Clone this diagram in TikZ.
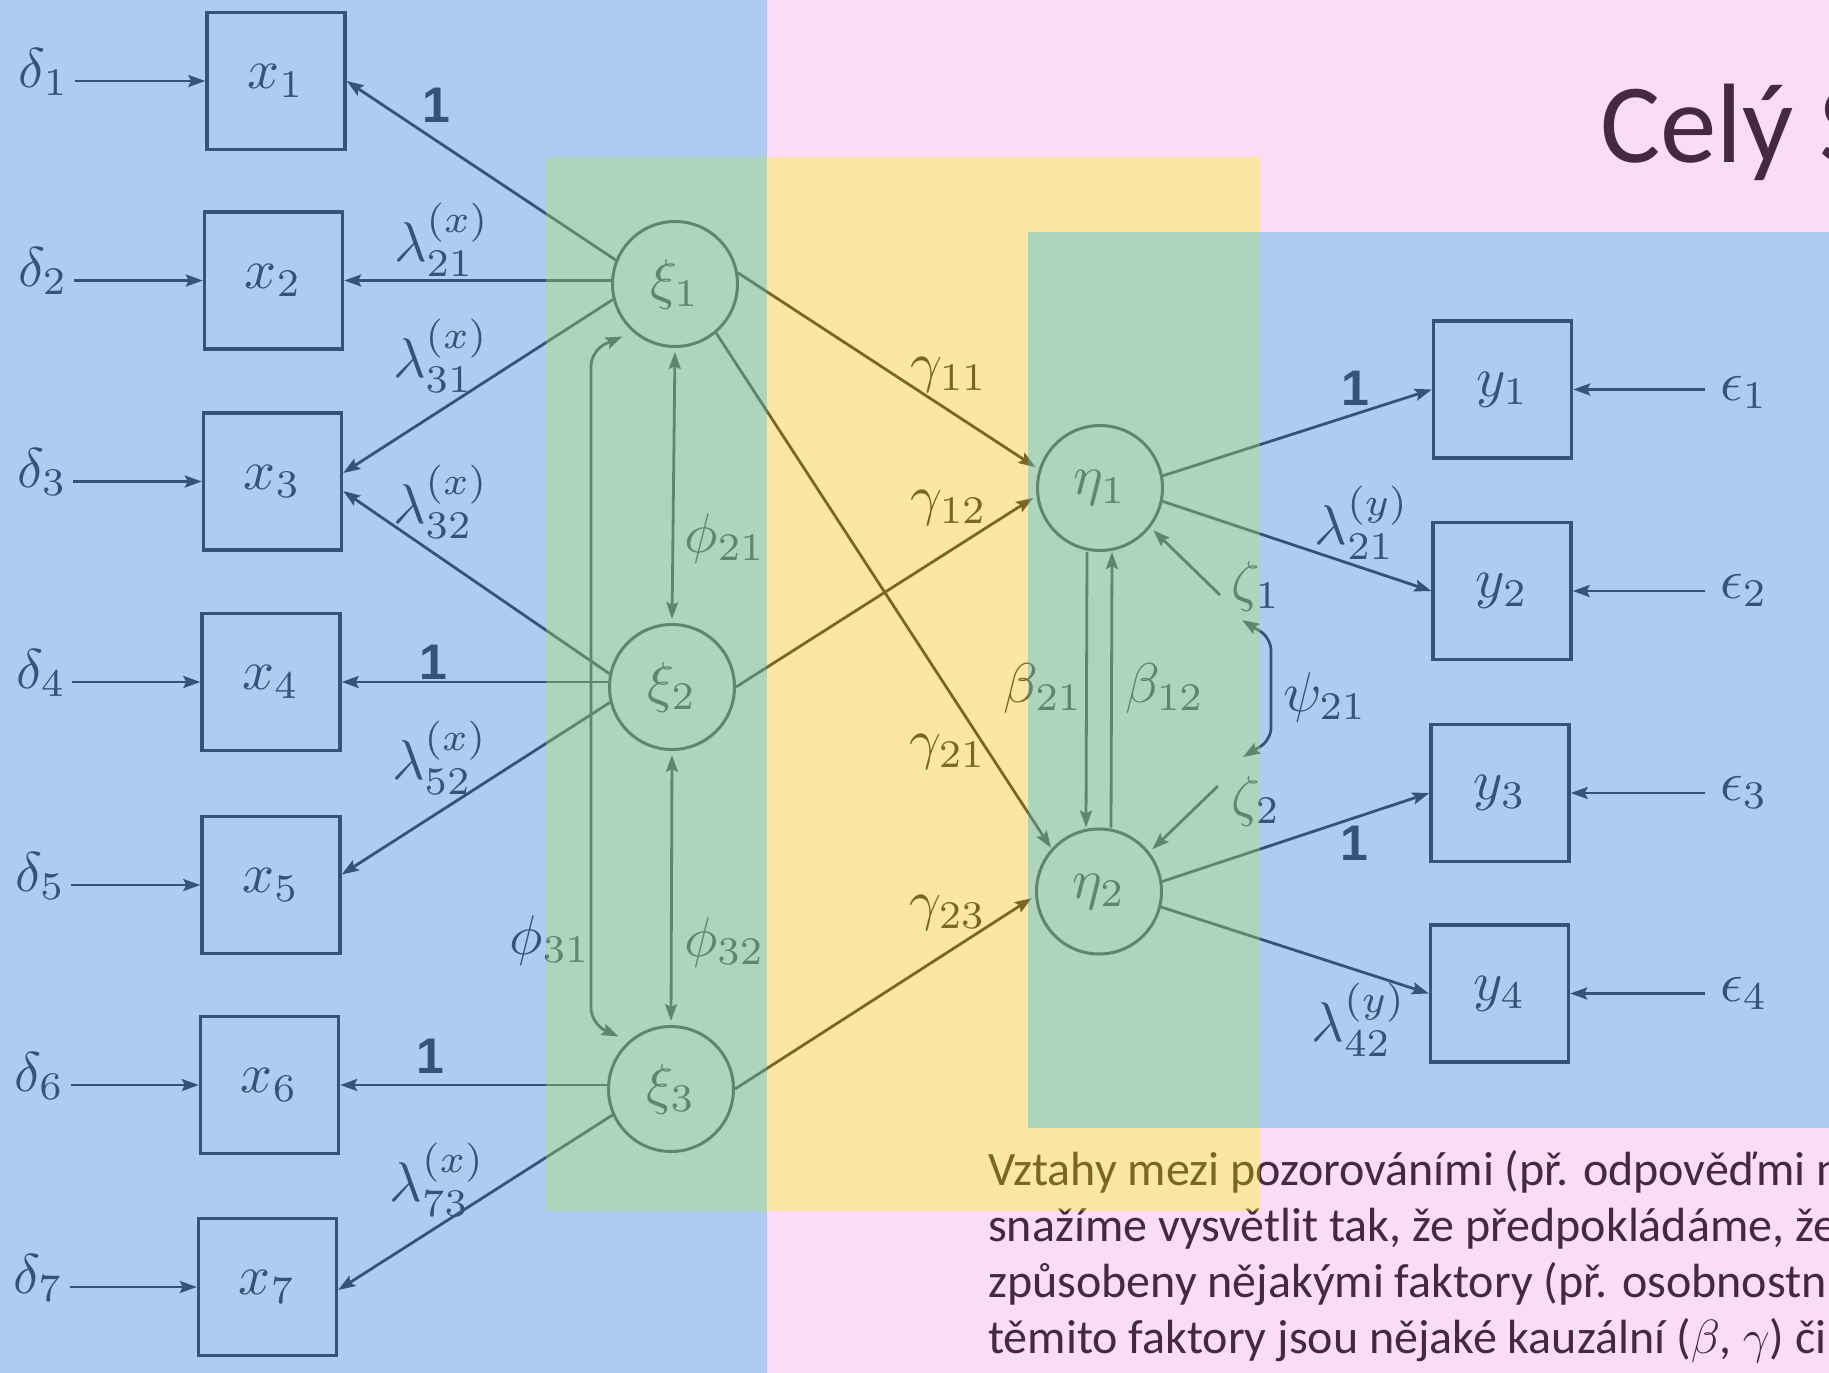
\RequirePackage{fix-cm}
\documentclass[tikz,border=0pt]{standalone}
\usepackage{graphicx}
\usepackage{fontspec}
\newfontfamily\slidefont{Carlito}
\newfontfamily\digitfont{Liberation Sans}
\usetikzlibrary{arrows.meta,calc}

\definecolor{diagink}{RGB}{30,30,30}
\definecolor{tintblue}{RGB}{77,146,225}
\definecolor{tintgreen}{RGB}{130,189,155}
\definecolor{tintyellow}{RGB}{250,197,48}
\definecolor{tintpink}{RGB}{240,80,200}

% formulas are set at 10pt and enlarged, as in a scanned figure
\newcommand\mth[1]{\scalebox{5.6}{$#1$}}
\newcommand\one{{\digitfont\bfseries\fontsize{50}{56}\selectfont 1}}

\tikzset{
  obs/.style={draw=diagink, line width=3.4pt, minimum width=138pt,
              minimum height=137pt, inner sep=0pt, text=diagink},
  lat/.style={draw=diagink, circle, line width=3pt, minimum size=125pt,
              inner sep=0pt, text=diagink},
  lbl/.style={inner sep=0pt, text=diagink},
  tip/.tip={Stealth[length=17pt,width=12pt,inset=3pt]},
  conn/.style={draw=diagink, line width=2.8pt, -tip},
  dconn/.style={draw=diagink, line width=2.8pt, tip-tip},
  gap/.style={shorten >=4pt},
  slidetext/.style={inner sep=0pt, text=diagink, anchor=base west,
              font=\slidefont\fontsize{48}{56}\selectfont},
  tintb/.style={fill=tintblue, fill opacity=0.46},
  tintg/.style={fill=tintgreen, fill opacity=0.65},
  tinty/.style={fill=tintyellow, fill opacity=0.43},
  tintp/.style={fill=tintpink, fill opacity=0.2},
}

\begin{document}
\begin{tikzpicture}[x=1pt, y=-1pt, font=\fontsize{10}{12}\selectfont]
\useasboundingbox (0,0) rectangle (1829,1373);
\clip (0,0) rectangle (1829,1373);

% white page
\fill[white] (0,0) rectangle (1829,1373);

% observed x variables
\node[obs] (x1) at (276,81)     {\mth{x_1}};
\node[obs] (x2) at (273.5,280.5) {\mth{x_2}};
\node[obs] (x3) at (272.5,481.5) {\mth{x_3}};
\node[obs] (x4) at (271,682)    {\mth{x_4}};
\node[obs] (x5) at (271,885)    {\mth{x_5}};
\node[obs] (x6) at (269.5,1085) {\mth{x_6}};
\node[obs] (x7) at (267.5,1287) {\mth{x_7}};

% measurement errors delta
\foreach \i/\xx/\yy in {1/75/87, 2/74.1/286.5, 3/73.2/487.5, 4/72.3/688,
                        5/71.4/891, 6/70.5/1091, 7/69.6/1293}{
  \node[lbl, anchor=base east, outer xsep=6pt] (d\i) at (\xx,\yy) {\mth{\delta_{\i}}};
  \draw[conn] (d\i.east |- x\i.west) -- (x\i.west);
}

% exogenous latent variables
\node[lat] (xi1) at (675,284)  {\mth{\xi_1}};
\node[lat] (xi2) at (672,687)  {\mth{\xi_2}};
\node[lat] (xi3) at (671,1089) {\mth{\xi_3}};

% loadings of x
\draw[conn] (xi1.158) -- (x1.east);
\draw[conn] (x2.east -| xi1.west) -- (x2.east);
\draw[conn] (xi1.194) -- ([yshift=8.5pt]x3.east);
\draw[conn] (xi2.168) -- ([yshift=-9.5pt]x3.east);
\draw[conn] (x4.east -| xi2.west) -- (x4.east);
\draw[conn] (xi2.194) -- ([yshift=10.5pt]x5.east);
\draw[conn] (x6.east -| xi3.west) -- (x6.east);
\draw[conn] (xi3.204) -- ([yshift=-3pt]x7.east);

\node[lbl] (o1) at (436,105) {\one};
\node[lbl] (l21) at (442,240)  {\mth{\lambda^{(x)}_{21}}};
\node[lbl] (l31) at (441,356)  {\mth{\lambda^{(x)}_{31}}};
\node[lbl] (l32) at (441,502)  {\mth{\lambda^{(x)}_{32}}};
\node[lbl] (o4) at (433.5,662) {\one};
\node[lbl] (l52) at (440,758)  {\mth{\lambda^{(x)}_{52}}};
\node[lbl] (o6) at (430,1056.5) {\one};
\node[lbl] (l73) at (437.5,1180) {\mth{\lambda^{(x)}_{73}}};

% covariances of xi
\draw[dconn, shorten <=4pt, shorten >=4pt] (xi1.south) -- (xi2.north);
\draw[dconn, shorten <=4pt, shorten >=4pt] (xi2.south) -- (xi3.north);
\draw[dconn, rounded corners=16pt]
  ($(xi1.center)!1.16!(xi1.225)$) -- (591,350) -- (591,1024)
  -- ($(xi3.center)!1.16!(xi3.135)$);
\node[lbl] (p21) at (725,538)   {\mth{\phi_{21}}};
\node[lbl] (p32) at (724.5,942) {\mth{\phi_{32}}};
\node[lbl] (p31) at (550,940)   {\mth{\phi_{31}}};

% endogenous latent variables
\node[lat] (eta1) at (1100,488)   {\mth{\eta_1}};
\node[lat] (eta2) at (1099,891.5) {\mth{\eta_2}};

% structural paths gamma
\draw[conn, gap] (xi1.10) -- (eta1.163);
\draw[conn, gap] (xi2.east) -- (eta1.187);
\draw[conn, shorten >=1pt] (xi1.-50) -- (eta2.138);
\draw[conn, gap] (xi3.east) -- (eta2.184);
\node[lbl] (g11) at (949,375) {\mth{\gamma_{11}}};
\node[lbl] (g12) at (949,508) {\mth{\gamma_{12}}};
\node[lbl] (g21) at (948,752) {\mth{\gamma_{21}}};
\node[lbl] (g23) at (948,913) {\mth{\gamma_{23}}};

% structural paths beta
\draw[conn] ([xshift=-13pt]eta1.south) -- ([xshift=-13pt]eta2.north);
\draw[conn] ([xshift=12pt]eta2.north) -- ([xshift=12pt]eta1.south);
\node[lbl] (b21) at (1043.5,688) {\mth{\beta_{21}}};
\node[lbl] (b12) at (1165,688)   {\mth{\beta_{12}}};

% disturbances zeta and their covariance
\node[lbl] (z1) at (1256,586) {\mth{\zeta_1}};
\node[lbl] (z2) at (1256,801) {\mth{\zeta_2}};
\coordinate (z1s) at (1220,595);
\coordinate (z2s) at (1218,786);
\draw[conn, gap] (z1s) -- (eta1.-38);
\draw[conn, gap] (z2s) -- (eta2.38);
\coordinate (psA) at (1242,620);
\coordinate (psB) at (1243,757);
\draw[dconn, rounded corners=12pt] (psA) -- (1271,638) -- (1271,740) -- (psB);
\node[lbl] (psi) at (1325,697) {\mth{\psi_{21}}};

% observed y variables
\node[obs] (y1) at (1502.5,389.5) {\mth{y_1}};
\node[obs] (y2) at (1502,591)     {\mth{y_2}};
\node[obs] (y3) at (1500,793)     {\mth{y_3}};
\node[obs] (y4) at (1499.5,993.5) {\mth{y_4}};

\draw[conn] (eta1.11)  -- (y1.west);
\draw[conn] (eta1.-12) -- (y2.west);
\draw[conn] (eta2.9)   -- (y3.west);
\draw[conn] (eta2.-14) -- (y4.west);
\node[lbl] (o7) at (1355.6,388.5) {\one};
\node[lbl] (ly21) at (1362,523)  {\mth{\lambda^{(y)}_{21}}};
\node[lbl] (o9) at (1354,843.5) {\one};
\node[lbl] (ly42) at (1359,1020) {\mth{\lambda^{(y)}_{42}}};

% measurement errors epsilon
\foreach \i/\yy in {1/400, 2/598, 3/800, 4/1001}{
  \node[lbl, anchor=base west, outer xsep=15pt] (e\i) at (1705,\yy) {\mth{\epsilon_{\i}}};
  \draw[conn] (e\i.west |- y\i.east) -- (y\i.east);
}

% slide title and body text
\node[slidetext, font=\slidefont\fontsize{113}{120}\selectfont] (title) at (1600,162) {Celý S};
\node[slidetext] (t1) at (988,1185) {Vztahy mezi pozorováními (př. odpověďmi n};
\node[slidetext] (t2) at (988,1241) {snažíme vysvětlit tak, že předpokládáme, že};
\node[slidetext] (t3) at (988,1297) {způsobeny nějakými faktory (př. osobnostní};
\node[slidetext] (t4) at (988,1353) {těmito faktory jsou nějaké kauzální ({\fontsize{48}{56}\selectfont$\beta$, $\gamma$}) či};

% translucent colour panels over everything
\fill[tintb] (0,0) rectangle (546,1373);
\fill[tintb] (546,0) rectangle (767,157);
\fill[tintb] (546,1211) rectangle (767,1373);
\fill[tintb] (1260,232) rectangle (1829,1128);
\fill[tintg] (546,157) rectangle (767,1211);
\fill[tintg] (1028,232) rectangle (1260,1128);
\fill[tinty] (767,157) rectangle (1260,232);
\fill[tinty] (767,232) rectangle (1028,1211);
\fill[tinty] (1028,1128) rectangle (1260,1211);
\fill[tintp] (767,0) rectangle (1829,157);
\fill[tintp] (1260,157) rectangle (1829,232);
\fill[tintp] (1260,1128) rectangle (1829,1211);
\fill[tintp] (767,1211) rectangle (1829,1373);
\end{tikzpicture}
\end{document}
